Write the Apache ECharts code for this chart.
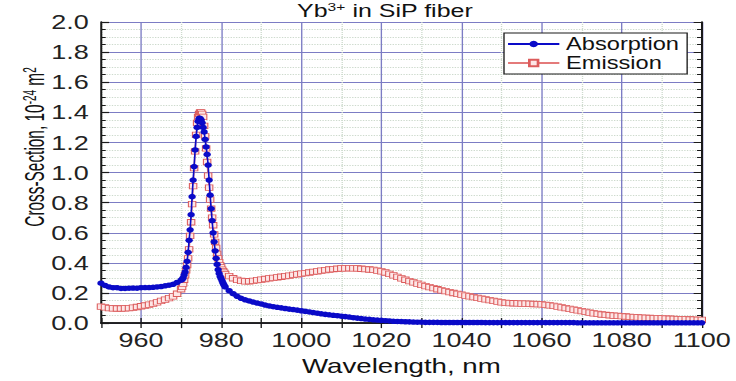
<!DOCTYPE html>
<html><head><meta charset="utf-8">
<script src="https://cdn.jsdelivr.net/npm/echarts@6/dist/echarts.min.js"></script>
<style>
html,body{margin:0;padding:0;background:#fff;overflow:hidden;}
#wrap{width:736px;height:381px;overflow:hidden;position:relative;background:#fff;}
#chart{position:absolute;left:0;top:0;height:381px;transform-origin:0 0;}
</style></head><body>
<div id="wrap"><div id="chart"></div></div>
<script>
// ---- data ----
const wavelength = [
 950,951,952,953,954,955,956,957,958,959,
 960,961,962,963,964,965,966,967,968,969,
 970,970.25,970.5,970.75,971,971.25,971.5,971.75,
 972,972.25,972.5,972.75,973,973.25,973.5,973.75,
 974,974.25,974.5,974.75,975,975.25,975.5,975.75,
 976,976.25,976.5,976.75,977,977.25,977.5,977.75,
 978,978.25,978.5,978.75,979,979.25,979.5,979.75,
 980,980.25,980.5,980.75,981,
 982,983,984,985,986,987,988,989,990,991,
 992,993,994,995,996,997,998,999,1000,1001,
 1002,1003,1004,1005,1006,1007,1008,1009,1010,1011,
 1012,1013,1014,1015,1016,1017,1018,1019,1020,1021,
 1022,1023,1024,1025,1026,1027,1028,1029,1030,1031,
 1032,1033,1034,1035,1036,1037,1038,1039,1040,1041,
 1042,1043,1044,1045,1046,1047,1048,1049,1050,1051,
 1052,1053,1054,1055,1056,1057,1058,1059,1060,1061,
 1062,1063,1064,1065,1066,1067,1068,1069,1070,1071,
 1072,1073,1074,1075,1076,1077,1078,1079,1080,1081,
 1082,1083,1084,1085,1086,1087,1088,1089,1090,1091,
 1092,1093,1094,1095,1096,1097,1098,1099,1100
];
const absorption = [
 0.265,0.250,0.240,0.235,0.235,0.230,0.230,0.232,0.233,0.232,
 0.235,0.236,0.236,0.238,0.240,0.243,0.248,0.252,0.258,0.270,
 0.285,0.290,0.300,0.320,0.340,0.370,0.410,0.470,
 0.550,0.620,0.720,0.840,0.950,1.040,1.150,1.240,
 1.300,1.340,1.360,1.360,1.350,1.330,1.300,1.270,
 1.220,1.170,1.120,1.050,0.950,0.850,0.760,0.680,
 0.600,0.540,0.480,0.430,0.390,0.355,0.330,0.310,
 0.295,0.280,0.265,0.252,0.240,
 0.215,0.195,0.178,0.165,0.155,0.147,0.140,0.133,0.127,0.120,
 0.114,0.109,0.105,0.101,0.097,0.093,0.090,0.086,0.082,0.078,
 0.074,0.070,0.066,0.062,0.058,0.055,0.052,0.049,0.046,0.043,
 0.040,0.036,0.033,0.030,0.027,0.025,0.022,0.020,0.018,0.016,
 0.014,0.012,0.011,0.010,0.009,0.008,0.007,0.006,0.006,0.005,
 0.005,0.005,0.005,0.004,0.004,0.004,0.004,0.004,0.004,0.004,
 0.004,0.004,0.004,0.004,0.003,0.003,0.003,0.003,0.003,0.003,
 0.003,0.003,0.003,0.003,0.003,0.003,0.003,0.003,0.003,0.003,
 0.003,0.003,0.003,0.003,0.003,0.003,0.003,0.002,0.002,0.002,
 0.002,0.002,0.002,0.002,0.002,0.002,0.002,0.002,0.002,0.002,
 0.002,0.002,0.002,0.002,0.002,0.002,0.002,0.002,0.002,0.002,
 0.002,0.002,0.002,0.002,0.002,0.002,0.002,0.002,0.002
];
const emission = [
 0.110,0.105,0.100,0.098,0.097,0.097,0.098,0.100,0.103,0.107,
 0.112,0.117,0.123,0.130,0.138,0.147,0.156,0.166,0.178,0.195,
 0.225,0.240,0.262,0.288,0.318,0.350,0.385,0.430,
 0.490,0.580,0.670,0.790,0.910,1.030,1.140,1.250,
 1.330,1.370,1.390,1.400,1.400,1.390,1.370,1.310,
 1.240,1.160,1.070,0.980,0.900,0.820,0.760,0.700,
 0.650,0.590,0.540,0.500,0.460,0.430,0.405,0.385,
 0.370,0.355,0.345,0.335,0.325,
 0.312,0.298,0.287,0.280,0.277,0.278,0.281,0.285,0.289,0.293,
 0.297,0.300,0.304,0.308,0.312,0.316,0.320,0.324,0.328,0.332,
 0.336,0.340,0.344,0.348,0.352,0.356,0.359,0.361,0.363,0.364,
 0.365,0.364,0.363,0.361,0.359,0.356,0.353,0.349,0.344,0.336,
 0.327,0.317,0.307,0.297,0.288,0.279,0.270,0.262,0.254,0.246,
 0.239,0.232,0.225,0.218,0.212,0.206,0.200,0.194,0.189,0.183,
 0.178,0.172,0.167,0.162,0.157,0.152,0.147,0.142,0.138,0.135,
 0.133,0.132,0.131,0.130,0.129,0.128,0.127,0.126,0.124,0.121,
 0.118,0.114,0.110,0.105,0.100,0.095,0.090,0.085,0.080,0.075,
 0.070,0.065,0.061,0.057,0.054,0.052,0.050,0.048,0.046,0.044,
 0.042,0.040,0.038,0.036,0.035,0.034,0.033,0.032,0.031,0.030,
 0.029,0.028,0.027,0.026,0.025,0.024,0.023,0.022,0.021
];
const seriesNames = ['Absorption', 'Emission'];
const xRange = [950, 1100];
const yRange = [0, 2];

// ---- layout: the reference figure is stretched horizontally ----
const SX = 1.35;
const W = 736 / SX;
const el = document.getElementById('chart');
el.style.width = W + 'px';
el.style.transform = 'scaleX(' + SX + ')';

const FONT = "'Liberation Sans', Arial, sans-serif";
const MAJOR = '#7c7cc4';
const MINOR = '#cddacd';
const AXIS = '#1a1a1a';

const chart = echarts.init(el, null, {renderer: 'svg'});
const gridRight = (736 - 702) / SX;
const gridLeft = 101 / SX;

chart.setOption({
  animation: false,
  backgroundColor: '#fff',
  textStyle: {fontFamily: FONT},
  grid: {left: gridLeft, right: gridRight, top: 22, bottom: 54, containLabel: false},
  legend: {
    orient: 'vertical', left: 504 / SX, top: 33,
    data: seriesNames,
    itemWidth: 38, itemHeight: 8, itemGap: 1,
    padding: [2, 6, 2, 2],
    borderColor: AXIS, borderWidth: 1, backgroundColor: '#fff',
    textStyle: {fontSize: 17.5, color: '#111', fontFamily: FONT}
  },
  graphic: [
    {
      type: 'text', x: 385 / SX, y: 11,
      style: {
        text: '{a|Yb}{s|3+}{a| in SiP fiber}',
        align: 'center', verticalAlign: 'middle',
        rich: {
          a: {fontSize: 18.5, fontFamily: FONT, fill: '#111'},
          s: {fontSize: 11.5, fontFamily: FONT, fill: '#111', verticalAlign: 'top'}
        }
      }
    },
    {
      type: 'text', x: 35 / SX, y: 147, rotation: Math.PI / 2, scaleX: 0.77, scaleY: 1,
      style: {
        text: '{a|Cross-Section, 10}{s|-24}{a| m}{s|2}',
        align: 'center', verticalAlign: 'middle',
        rich: {
          a: {fontSize: 20, fontFamily: FONT, fill: '#111'},
          s: {fontSize: 13, fontFamily: FONT, fill: '#111', verticalAlign: 'top'}
        }
      }
    }
  ],
  xAxis: [
    {
      type: 'value', position: 'bottom', min: xRange[0], max: xRange[1], interval: 10,
      name: 'Wavelength, nm', nameLocation: 'middle', nameGap: 28,
      nameTextStyle: {fontSize: 20.5, color: '#111', fontFamily: FONT},
      axisLine: {show: true, lineStyle: {color: AXIS, width: 1.5}},
      axisTick: {show: true, inside: true, length: 5, lineStyle: {color: AXIS, width: 1}},
      axisLabel: {
        fontSize: 20, color: '#222', margin: 7, fontFamily: FONT,
        formatter: v => (v % 20 === 0 ? String(v) : '')
      },
      splitLine: {show: true, showMinLine: true, showMaxLine: true,
        lineStyle: {color: ['rgba(0,0,0,0)', MAJOR], width: 1}}
    },
    {
      type: 'value', position: 'top', min: xRange[0], max: xRange[1], interval: 10,
      axisLine: {show: true, lineStyle: {color: AXIS, width: 1.5}},
      axisTick: {show: true, inside: true, length: 5, lineStyle: {color: AXIS, width: 1}},
      axisLabel: {show: false},
      splitLine: {show: true, showMinLine: true, showMaxLine: true,
        lineStyle: {color: [MINOR, 'rgba(0,0,0,0)'], type: 'dotted', width: 1}}
    }
  ],
  yAxis: [
    {
      type: 'value', position: 'left', min: yRange[0], max: yRange[1], interval: 0.2,
      axisLine: {show: true, lineStyle: {color: AXIS, width: 1.5}},
      axisTick: {show: true, inside: true, length: 6, lineStyle: {color: AXIS, width: 1.2}},
      minorTick: {show: true, splitNumber: 4, length: 3.5, lineStyle: {color: AXIS, width: 1}},
      axisLabel: {fontSize: 20, color: '#222', margin: 9, fontFamily: FONT,
        formatter: v => v.toFixed(1)},
      splitLine: {show: true, lineStyle: {color: MAJOR, width: 1}},
      minorSplitLine: {show: true, lineStyle: {color: MINOR, type: 'dotted', width: 1}}
    },
    {
      type: 'value', position: 'right', min: yRange[0], max: yRange[1], interval: 0.2,
      axisLine: {show: true, lineStyle: {color: AXIS, width: 1.5}},
      axisTick: {show: true, inside: true, length: 6, lineStyle: {color: AXIS, width: 1.2}},
      minorTick: {show: true, splitNumber: 4, length: 3.5, lineStyle: {color: AXIS, width: 1}},
      axisLabel: {show: false},
      splitLine: {show: false}
    }
  ],
  series: [
    {
      name: seriesNames[0], type: 'line', xAxisIndex: 0, yAxisIndex: 0, z: 4,
      data: wavelength.map((w, i) => [w, absorption[i]]),
      symbol: 'circle', symbolSize: 5.5, showAllSymbol: true,
      lineStyle: {color: '#0a0ac8', width: 1.2},
      itemStyle: {color: '#0a0ac8', borderWidth: 0},
      emphasis: {disabled: true}
    },
    {
      name: seriesNames[1], type: 'line', xAxisIndex: 0, yAxisIndex: 0, z: 3,
      data: wavelength.map((w, i) => [w, emission[i]]),
      symbol: 'rect', symbolSize: 5.5, showAllSymbol: true,
      lineStyle: {color: '#e47a7a', width: 1.2},
      itemStyle: {color: '#fde6e6', borderColor: '#dc5c5c', borderWidth: 0.8},
      emphasis: {disabled: true}
    }
  ]
});
</script>
</body></html>
